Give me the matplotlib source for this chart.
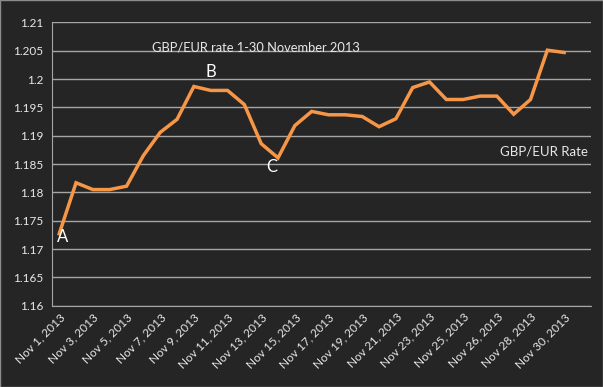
import matplotlib
matplotlib.use('Agg')
import matplotlib.pyplot as plt

# GBP/EUR daily rate, November 2013
dates = ['Nov 1, 2013', 'Nov 2, 2013', 'Nov 3, 2013', 'Nov 4, 2013', 'Nov 5, 2013',
         'Nov 6, 2013', 'Nov 7, 2013', 'Nov 8, 2013', 'Nov 9, 2013', 'Nov 10, 2013',
         'Nov 11, 2013', 'Nov 12, 2013', 'Nov 13, 2013', 'Nov 14, 2013', 'Nov 15, 2013',
         'Nov 16, 2013', 'Nov 17, 2013', 'Nov 18, 2013', 'Nov 19, 2013', 'Nov 20, 2013',
         'Nov 21, 2013', 'Nov 22, 2013', 'Nov 23, 2013', 'Nov 24, 2013', 'Nov 25, 2013',
         'Nov 25, 2013', 'Nov 26, 2013', 'Nov 27, 2013', 'Nov 28, 2013', 'Nov 29, 2013',
         'Nov 30, 2013']
rates = [1.1727, 1.1817, 1.1805, 1.1805, 1.1811, 1.1865, 1.1906, 1.1929, 1.1987, 1.1980,
         1.1980, 1.1955, 1.1886, 1.1861, 1.1918, 1.1943, 1.1937, 1.1937, 1.1934, 1.1916,
         1.1930, 1.1985, 1.1995, 1.1964, 1.1964, 1.1970, 1.1970, 1.1938, 1.1964, 1.2051,
         1.2047]
# point labels
marks = ['A', 'B', 'C']

bg = '#252525'
grid_col = '#a6a6a6'
txt_col = '#e8e8e8'
plt.rcParams['font.family'] = ['Lato', 'DejaVu Sans']

fig = plt.figure(figsize=(6.03, 3.87), dpi=100, facecolor=bg)
ax = fig.add_axes([0.0862, 0.210, 0.8938, 0.732], facecolor=bg)

x = list(range(len(rates)))
ax.plot(x, rates, color='#F79646', lw=2.5, solid_joinstyle='miter', zorder=3)

ax.set_ylim(1.16, 1.21)
ax.set_yticks([1.16 + 0.005 * i for i in range(11)])
ax.set_yticklabels(['1.16', '1.165', '1.17', '1.175', '1.18', '1.185', '1.19',
                    '1.195', '1.2', '1.205', '1.21'])
ax.set_xlim(-0.43, 31.59)
ax.set_xticks(x[::2])
ax.set_xticklabels(dates[::2][:13] + ['Nov 26, 2013', 'Nov 28, 2013', 'Nov 30, 2013'],
                   rotation=45, ha='right', rotation_mode='anchor')

ax.grid(axis='y', color=grid_col, lw=1)
ax.set_axisbelow(True)
for s in ['top', 'right']:
    ax.spines[s].set_visible(False)
ax.spines['left'].set_color(grid_col)
ax.spines['bottom'].set_color(grid_col)
ax.tick_params(length=0, colors=txt_col, labelsize=8.5)
ax.tick_params(axis='y', pad=6)
ax.tick_params(axis='x', pad=4)

ax.text(0.185, 0.912, 'GBP/EUR rate 1-30 November 2013', transform=ax.transAxes,
        color=txt_col, fontsize=9.3, va='center')
ax.text(0.995, 0.545, 'GBP/EUR Rate', transform=ax.transAxes,
        color=txt_col, fontsize=9.5, ha='right', va='center')

# where each letter sits (category index, rate value)
mark_pos = [(0.22, 1.1722), (9.0, 1.2012), (12.63, 1.1844)]
for t, (px, py) in zip(marks, mark_pos):
    ax.text(px, py, t, color='white', fontsize=12, ha='center', va='center')

fig.patches.append(plt.Rectangle((0, 0), 1, 1, transform=fig.transFigure,
                                 fill=False, edgecolor='#8c8c8c', lw=1))

plt.savefig('out.png', dpi=100, facecolor=bg)
